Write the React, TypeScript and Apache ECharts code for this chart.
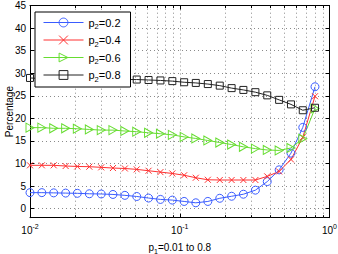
import React, { useEffect, useRef } from "react";
import * as echarts from "echarts";

const xValues = [
  0.01, 0.012, 0.0144, 0.0173, 0.0207, 0.0249, 0.0299, 0.0358, 0.043, 0.0516,
  0.0619, 0.0743, 0.0892, 0.107, 0.128, 0.154, 0.185, 0.222, 0.266, 0.32,
  0.384, 0.461, 0.553, 0.663, 0.8,
];
const seriesNames = ["p2=0.2", "p2=0.4", "p2=0.6", "p2=0.8"];
const blue = [
  3.55, 3.55, 3.5, 3.45, 3.4, 3.3, 3.25, 3.15, 2.95, 2.7, 2.35, 2.05, 1.9, 1.6,
  1.3, 1.6, 2.3, 2.75, 3.2, 4.1, 6.0, 8.6, 12.3, 18.0, 27.0,
];
const red = [
  9.6, 9.6, 9.6, 9.45, 9.35, 9.3, 9.15, 9.0, 8.9, 8.7, 8.4, 8.1, 7.8, 7.4, 6.85,
  6.4, 6.35, 6.35, 6.35, 6.35, 7.15, 8.25, 10.9, 15.8, 24.9,
];
const green = [
  17.95, 17.95, 17.8, 17.8, 17.7, 17.55, 17.4, 17.4, 17.2, 17.05, 16.8, 16.6,
  16.35, 15.9, 15.55, 15.1, 14.65, 14.2, 13.7, 13.3, 13.0, 12.9, 13.45, 15.5,
  22.2,
];
const black = [
  28.95, 28.8, 28.8, 28.8, 28.8, 28.8, 28.8, 28.65, 28.6, 28.6, 28.5, 28.4,
  28.25, 28.0, 27.85, 27.6, 27.25, 26.7, 26.3, 25.8, 25.1, 24.1, 23.1, 21.8,
  22.35,
];
const yTicks = [0, 5, 10, 15, 20, 25, 30, 35, 40, 45];
const minorX = [
  0.02, 0.03, 0.04, 0.05, 0.06, 0.07, 0.08, 0.09, 0.2, 0.3, 0.4, 0.5, 0.6, 0.7,
  0.8, 0.9,
];
const Y_MIN = -2;
const Y_MAX = 45;

const FONT = "Liberation Sans, Arial, Helvetica, sans-serif";

export default function App() {
  const ref = useRef<HTMLDivElement>(null);
  useEffect(() => {
    document.body.style.margin = "0";
    const chart = echarts.init(ref.current!, undefined, { renderer: "svg" });
    const colors = ["#3a5cff", "#ff3030", "#66dd30", "#222222"];
    const symbols = [
      "circle",
      "path://M0,0L10,10M10,0L0,10",
      "path://M0,0L10,5L0,10Z",
      "rect",
    ];
    const sizes: any[] = [8, 6, [8, 9], 7];
    const datasets = [blue, red, green, black];
    const lineSeries = datasets.map((vals, i) => ({
      type: "line",
      name: seriesNames[i],
      data: xValues.map((x, k) => [x, vals[k]]),
      symbol: symbols[i],
      symbolSize: sizes[i],
      showAllSymbol: true,
      lineStyle: { color: colors[i], width: 1 },
      itemStyle: {
        color: "rgba(0,0,0,0)",
        borderColor: colors[i],
        borderWidth: 1,
      },
      z: 3,
    }));
    const crisp = (v: number) => Math.round(v) + 0.5;
    const option: any = {
      animation: false,
      textStyle: { fontFamily: FONT },
      grid: {
        left: 30,
        right: 8.5,
        top: 5.5,
        bottom: 36.3,
        containLabel: false,
        outerBoundsMode: "none",
      },
      legend: {
        data: seriesNames,
        orient: "vertical",
        left: 35,
        top: 12,
        padding: [5, 10, 4, 8],
        itemGap: 4,
        itemWidth: 40,
        itemHeight: 11,
        backgroundColor: "#fff",
        borderColor: "#000",
        borderWidth: 1,
        z: 10,
        lineStyle: { width: 1 },
        itemStyle: { borderWidth: 1 },
        formatter: (name: string) => `{a|p}{s|2}{a|=${name.slice(3)}}`,
        textStyle: {
          fontFamily: FONT,
          fontSize: 11,
          color: "#000",
          rich: {
            a: { fontSize: 11, fontFamily: FONT, color: "#000" },
            s: { fontSize: 7.5, fontFamily: FONT, color: "#000", padding: [8, 0, 0, 0] },
          },
        },
      },
      xAxis: [
        {
          type: "log",
          logBase: 10,
          min: 0.01,
          max: 1,
          position: "bottom",
          axisLine: { onZero: false, lineStyle: { color: "#000", width: 1 } },
          axisTick: { inside: true, length: 4, lineStyle: { color: "#000" } },
          axisLabel: {
            margin: 5,
            color: "#000",
            showMinLabel: true,
            showMaxLabel: true,
            formatter: (v: number) =>
              `{b|10}{s|${Math.round(Math.log10(v))}}`,
            rich: {
              b: { fontSize: 10, fontFamily: FONT, color: "#000" },
              s: { fontSize: 7, fontFamily: FONT, color: "#000", padding: [0, 0, 8, 0] },
            },
          },
          splitLine: {
            show: true,
            lineStyle: { type: [1, 3], color: "#8a8a8a", width: 1 },
          },
          name: "{a|p}{s|1}{a|=0.01 to 0.8}",
          nameLocation: "middle",
          nameGap: 23,
          nameMoveOverlap: false,
          nameTextStyle: {
            color: "#000",
            rich: {
              a: { fontSize: 10, fontFamily: FONT, color: "#000" },
              s: { fontSize: 7, fontFamily: FONT, color: "#000", padding: [7, 0, 0, 0] },
            },
          },
        },
        {
          type: "log",
          logBase: 10,
          min: 0.01,
          max: 1,
          position: "top",
          axisLine: { onZero: false, lineStyle: { color: "#000", width: 1 } },
          axisTick: { inside: true, length: 4, lineStyle: { color: "#000" } },
          axisLabel: { show: false },
          splitLine: { show: false },
        },
      ],
      yAxis: [
        {
          type: "value",
          min: Y_MIN,
          max: Y_MAX,
          position: "left",
          axisLine: { show: true, onZero: false, lineStyle: { color: "#000", width: 1 } },
          axisTick: {
            show: true,
            inside: true,
            length: 4,
            customValues: yTicks,
            lineStyle: { color: "#000" },
          },
          axisLabel: {
            customValues: yTicks,
            fontSize: 10,
            fontFamily: FONT,
            color: "#000",
            margin: 4,
          },
          splitLine: {
            show: true,
            lineStyle: { type: [1, 3], color: "#8a8a8a", width: 1 },
          },
          name: "Percentage",
          nameLocation: "middle",
          nameGap: 16,
          nameMoveOverlap: false,
          nameTextStyle: { fontSize: 10, fontFamily: FONT, color: "#000" },
        },
        {
          type: "value",
          min: Y_MIN,
          max: Y_MAX,
          position: "right",
          axisLine: { show: true, onZero: false, lineStyle: { color: "#000", width: 1 } },
          axisTick: {
            show: true,
            inside: true,
            length: 4,
            customValues: yTicks,
            lineStyle: { color: "#000" },
          },
          axisLabel: { show: false },
          splitLine: { show: false },
        },
      ],
      series: [
        {
          type: "custom",
          name: "minorGrid",
          xAxisIndex: 0,
          yAxisIndex: 0,
          silent: true,
          z: 1,
          clip: false,
          data: minorX.map((v) => [v, 0]),
          encode: { x: 0, y: 1 },
          renderItem: (params: any, api: any) => {
            const v = api.value(0);
            const b = api.coord([v, Y_MIN]);
            const t = api.coord([v, Y_MAX]);
            const x = crisp(b[0]);
            return {
              type: "group",
              children: [
                {
                  type: "line",
                  shape: { x1: x, y1: b[1], x2: x, y2: t[1] },
                  style: { stroke: "#8a8a8a", lineDash: [1, 3], lineWidth: 1 },
                },
                {
                  type: "line",
                  shape: { x1: x, y1: b[1], x2: x, y2: b[1] - 2.5 },
                  style: { stroke: "#000", lineWidth: 1 },
                },
                {
                  type: "line",
                  shape: { x1: x, y1: t[1], x2: x, y2: t[1] + 2.5 },
                  style: { stroke: "#000", lineWidth: 1 },
                },
              ],
            };
          },
        },
        ...lineSeries,
      ],
    };
    chart.setOption(option);
    return () => chart.dispose();
  }, []);
  return (
    <div
      ref={ref}
      style={{ width: 338, height: 254, position: "absolute", left: 0, top: 0 }}
    />
  );
}
